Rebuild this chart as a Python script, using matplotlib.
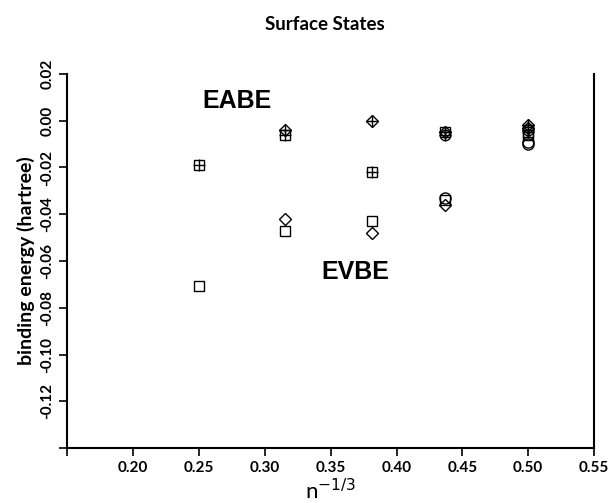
import matplotlib
matplotlib.use("Agg")
import matplotlib.pyplot as plt

# cluster sizes -> n^-1/3
x_vals = [0.25, 0.315, 0.3816, 0.4368, 0.50]

# electron attachment binding energies (marked with a cross)
eabe_sq_x = [0.25, 0.315, 0.3816, 0.4368, 0.50]
eabe_sq_y = [-0.019, -0.006, -0.022, -0.005, -0.005]
eabe_dm_x = [0.315, 0.3816, 0.4368, 0.50]
eabe_dm_y = [-0.004, 0.000, -0.005, -0.002]
eabe_ci_x = [0.4368, 0.50]
eabe_ci_y = [-0.006, -0.004]

# vertical binding energies
evbe_sq_x = [0.25, 0.315, 0.3816, 0.4368, 0.50]
evbe_sq_y = [-0.0705, -0.047, -0.043, -0.034, -0.006]
evbe_dm_x = [0.315, 0.3816, 0.4368, 0.50]
evbe_dm_y = [-0.042, -0.048, -0.036, -0.003]
evbe_ci_x = [0.4368, 0.50, 0.50]
evbe_ci_y = [-0.033, -0.009, -0.010]

x_ticks = [0.15, 0.20, 0.25, 0.30, 0.35, 0.40, 0.45, 0.50, 0.55]
x_ticklabels = ["", "0.20", "0.25", "0.30", "0.35", "0.40", "0.45", "0.50", "0.55"]
y_ticks = [0.02, 0.00, -0.02, -0.04, -0.06, -0.08, -0.10, -0.12, -0.14]
y_ticklabels = ["0.02", "0.00", "-0.02", "-0.04", "-0.06", "-0.08", "-0.10", "-0.12", ""]

plt.rcParams["font.family"] = ["Lato", "DejaVu Sans"]

fig = plt.figure(figsize=(6.16, 5.03), dpi=100)
ax = fig.add_axes([0.1094, 0.1093, 0.8549, 0.7436])

open_style = dict(linestyle="none", markerfacecolor="none", markeredgecolor="black",
                  markeredgewidth=1.0, color="black")

# EABE: open shapes with a cross inside
for xs, ys, m in [(eabe_sq_x, eabe_sq_y, "s"), (eabe_dm_x, eabe_dm_y, "D"),
                  (eabe_ci_x, eabe_ci_y, "o")]:
    ms = 6 if m == "D" else 7.5
    ax.plot(xs, ys, marker=m, markersize=ms, **open_style)
    ax.plot(xs, ys, marker="+", markersize=8, linestyle="none",
            markeredgecolor="black", markeredgewidth=1.0)

# EVBE: plain open shapes
ax.plot(evbe_sq_x, evbe_sq_y, marker="s", markersize=7.5, **open_style)
ax.plot(evbe_dm_x, evbe_dm_y, marker="D", markersize=6, **open_style)
ax.plot(evbe_ci_x, evbe_ci_y, marker="o", markersize=8, **open_style)

ax.text(0.279, 0.0085, "EABE", fontsize=18, fontweight="bold",
        family="Liberation Sans", ha="center", va="center")
ax.text(0.369, -0.0647, "EVBE", fontsize=18, fontweight="bold",
        family="Liberation Sans", ha="center", va="center")

ax.set_xlim(0.15, 0.55)
ax.set_ylim(-0.14, 0.02)
ax.set_xticks(x_ticks)
ax.set_xticklabels(x_ticklabels, fontsize=11, fontweight="bold")
ax.set_yticks(y_ticks)
ax.set_yticklabels(y_ticklabels, fontsize=11, fontweight="bold",
                   rotation=90, va="center")
ax.tick_params(direction="out", length=6, width=1.2, colors="black")

ax.spines["top"].set_visible(False)
for s in ["left", "bottom", "right"]:
    ax.spines[s].set_linewidth(1.5)

ax.set_xlabel("n$^{-1/3}$", fontsize=16, labelpad=2)
ax.set_ylabel("binding energy (hartree)", fontsize=14, fontweight="bold", labelpad=4)
fig.text(0.528, 0.952, "Surface States", fontsize=13.5, fontweight="bold",
         ha="center", va="center")

fig.savefig("out.png", dpi=100)
